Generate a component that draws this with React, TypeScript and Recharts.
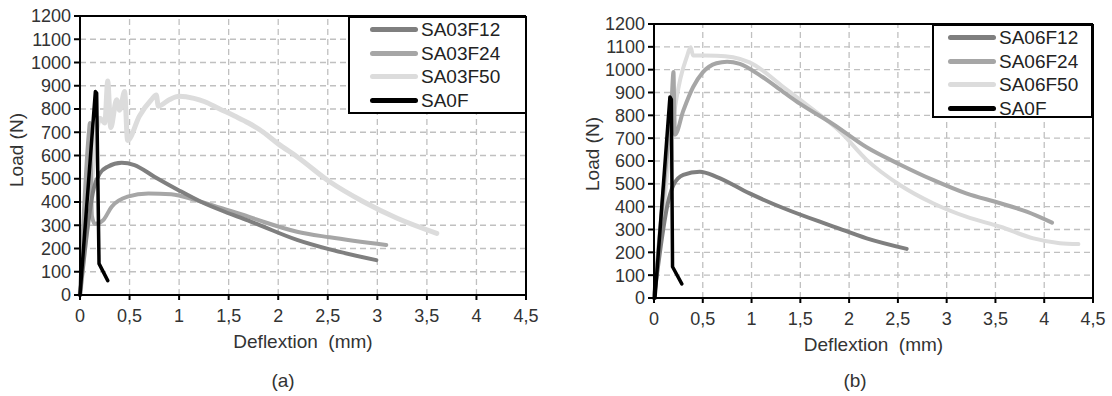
import React from 'react';
import { LineChart, Line, XAxis, YAxis, Legend, ReferenceLine, Label } from 'recharts';

const xTicks = [0, 0.5, 1, 1.5, 2, 2.5, 3, 3.5, 4, 4.5];
const yTicks = [0, 100, 200, 300, 400, 500, 600, 700, 800, 900, 1000, 1100, 1200];

// (a) series, [deflexion mm, load N]
const sa0fA = [[0, 0], [0.155, 875], [0.168, 868], [0.192, 135], [0.28, 62]];
const sa03f12 = [[0, 0], [0.14, 460], [0.2, 523], [0.28, 552], [0.42, 569], [0.55, 559], [0.75, 509], [0.99, 452], [1.22, 401], [1.46, 358], [1.7, 320], [1.85, 294], [2.19, 237], [2.52, 196], [2.99, 150]];
const sa03f24 = [[0, 0], [0.09, 700], [0.1, 740], [0.12, 340], [0.15, 305], [0.23, 320], [0.32, 380], [0.48, 423], [0.69, 437], [0.92, 433], [1.16, 409], [1.43, 373], [1.7, 337], [1.85, 315], [2.19, 272], [2.52, 248], [3.09, 215]];
const sa03f50 = [[0, 0], [0.1, 420], [0.2, 760], [0.25, 740], [0.28, 920], [0.31, 720], [0.37, 840], [0.4, 795], [0.45, 875], [0.48, 665], [0.6, 770], [0.72, 840], [0.77, 860], [0.79, 812], [0.9, 840], [1.0, 855], [1.15, 846], [1.26, 831], [1.4, 802], [1.56, 770], [1.7, 740], [1.85, 700], [2.0, 650], [2.19, 595], [2.52, 487], [2.86, 401], [3.2, 330], [3.6, 265]];

// (b) series
const sa0fB = [[0.01, 0], [0.163, 880], [0.178, 870], [0.19, 137], [0.285, 62]];
const sa06f12 = [[0, 0], [0.15, 430], [0.2, 495], [0.3, 539], [0.47, 553], [0.64, 531], [0.98, 458], [1.33, 393], [1.7, 334], [1.84, 313], [2.18, 261], [2.59, 215]];
const sa06f24 = [[0, 0], [0.1, 480], [0.18, 860], [0.2, 990], [0.205, 890], [0.215, 715], [0.3, 820], [0.4, 923], [0.5, 988], [0.64, 1028], [0.75, 1035], [0.88, 1025], [1.09, 974], [1.33, 901], [1.5, 850], [1.84, 760], [2.18, 660], [2.52, 585], [2.86, 517], [3.2, 458], [3.55, 415], [3.82, 378], [4.08, 330]];
const sa06f50 = [[0, 0], [0.1, 400], [0.2, 790], [0.27, 960], [0.335, 1054], [0.376, 1098], [0.4, 1062], [0.64, 1061], [0.81, 1054], [0.98, 1032], [1.33, 923], [1.63, 825], [1.91, 728], [2.18, 605], [2.52, 495], [2.86, 415], [3.2, 356], [3.55, 312], [3.89, 261], [4.16, 240], [4.35, 236]];

const pts = (arr: number[][]) => arr.map(([x, y]) => ({ x, y }));

const FONT = "'Liberation Sans', Arial, sans-serif";
const TEXT = '#333333';
const GRID = '#c0c0c0';

type Series = { name: string; color: string; width: number; type: 'monotone' | 'linear'; data: number[][] };

const seriesA: Series[] = [
  { name: 'SA03F12', color: '#7f7f7f', width: 4, type: 'monotone', data: sa03f12 },
  { name: 'SA03F24', color: '#a6a6a6', width: 4, type: 'monotone', data: sa03f24 },
  { name: 'SA03F50', color: '#dcdcdc', width: 5, type: 'monotone', data: sa03f50 },
  { name: 'SA0F', color: '#000000', width: 3.5, type: 'linear', data: sa0fA },
];

const seriesB: Series[] = [
  { name: 'SA06F12', color: '#7f7f7f', width: 4, type: 'monotone', data: sa06f12 },
  { name: 'SA06F24', color: '#a6a6a6', width: 4, type: 'monotone', data: sa06f24 },
  { name: 'SA06F50', color: '#dcdcdc', width: 4, type: 'monotone', data: sa06f50 },
  { name: 'SA0F', color: '#000000', width: 3.5, type: 'linear', data: sa0fB },
];

const BoxLegend = ({ series, pad }: { series: Series[]; pad: number }) => (
  <div style={{ width: '100%', height: '100%', boxSizing: 'border-box', border: '2px solid #000', background: '#fff', padding: `0 0 0 ${pad}px` }}>
    {series.map((s) => (
      <div key={s.name} style={{ display: 'flex', alignItems: 'center', height: 23.5 }}>
        <div style={{ width: 48, height: 5, borderRadius: 3, background: s.color }} />
        <span style={{ fontSize: 19, color: '#222', marginLeft: 3, lineHeight: '23px' }}>{s.name}</span>
      </div>
    ))}
  </div>
);

type PanelProps = {
  series: Series[];
  width: number;
  margin: { top: number; right: number; left: number; bottom: number };
  legendBox: { left: number; top: number; width: number; height: number };
  legendPad: number;
  yLabel: { x: number; y: number };
};

const Panel = ({ series, width, margin, legendBox, legendPad, yLabel }: PanelProps) => (
  <LineChart width={width} height={396} margin={margin}>
    <XAxis
      dataKey="x"
      type="number"
      domain={[0, 4.5]}
      ticks={xTicks}
      interval={0}
      tickFormatter={(v: number) => String(v).replace('.', ',')}
      tick={{ fill: TEXT, fontSize: 18 }}
      tickSize={5}
      tickMargin={9}
      stroke="#000"
      strokeWidth={2}
      height={50}
      allowDuplicatedCategory={false}
    >
      <Label value={'Deflextion\u00a0 (mm)'} position="insideBottom" offset={-3} fill={TEXT} fontSize={19} />
    </XAxis>
    <YAxis
      type="number"
      domain={[0, 1200]}
      ticks={yTicks}
      interval={0}
      tick={{ fill: TEXT, fontSize: 18 }}
      tickSize={6}
      tickMargin={3}
      stroke="#000"
      strokeWidth={2}
      width={60}
    >
      <Label
        content={() => (
          <text x={yLabel.x} y={yLabel.y} transform={`rotate(-90 ${yLabel.x} ${yLabel.y})`} textAnchor="middle" dominantBaseline="central" fill={TEXT} fontSize={19}>
            Load (N)
          </text>
        )}
      />
    </YAxis>
    {/* dashed grid */}
    {yTicks.slice(1, -1).map((v) => (
      <ReferenceLine key={`h${v}`} y={v} stroke={GRID} strokeDasharray="6 4" strokeWidth={1.3} />
    ))}
    {xTicks.slice(1, -1).map((v) => (
      <ReferenceLine key={`v${v}`} x={v} stroke={GRID} strokeDasharray="6 4" strokeWidth={1.3} />
    ))}
    <ReferenceLine y={1200} stroke="#000" strokeWidth={2} />
    <ReferenceLine x={4.5} stroke="#000" strokeWidth={2} />
    {[2, 1, 0, 3].map((i) => {
      const s = series[i];
      return (
        <Line
          key={s.name}
          data={pts(s.data)}
          dataKey="y"
          name={s.name}
          type={s.type}
          stroke={s.color}
          strokeWidth={s.width}
          strokeLinecap="round"
          strokeLinejoin="round"
          dot={false}
          activeDot={false}
          isAnimationActive={false}
        />
      );
    })}
    <Legend
      layout="vertical"
      align="center"
      verticalAlign="middle"
      wrapperStyle={{ position: 'absolute', ...legendBox }}
      content={() => <BoxLegend series={series} pad={legendPad} />}
    />
  </LineChart>
);

export default function App() {
  return (
    <div style={{ position: 'absolute', left: 0, top: 0, width: 1112, height: 396, background: '#fff', fontFamily: FONT, overflow: 'hidden' }}>
      <div style={{ position: 'absolute', left: 0, top: 0 }}>
        <Panel
          series={seriesA}
          width={560}
          margin={{ top: 16, right: 34, left: 20, bottom: 51 }}
          legendBox={{ left: 348, top: 16, width: 179, height: 98 }}
          legendPad={20}
          yLabel={{ x: 16, y: 150 }}
        />
      </div>
      <div style={{ position: 'absolute', left: 560, top: 0 }}>
        <Panel
          series={seriesB}
          width={552}
          margin={{ top: 24, right: 19, left: 34, bottom: 48 }}
          legendBox={{ left: 372, top: 24, width: 161, height: 94 }}
          legendPad={14}
          yLabel={{ x: 32, y: 154 }}
        />
      </div>
      <div style={{ position: 'absolute', left: 263, top: 370, width: 40, textAlign: 'center', fontSize: 19, color: TEXT }}>(a)</div>
      <div style={{ position: 'absolute', left: 835, top: 370, width: 40, textAlign: 'center', fontSize: 19, color: TEXT }}>(b)</div>
    </div>
  );
}
